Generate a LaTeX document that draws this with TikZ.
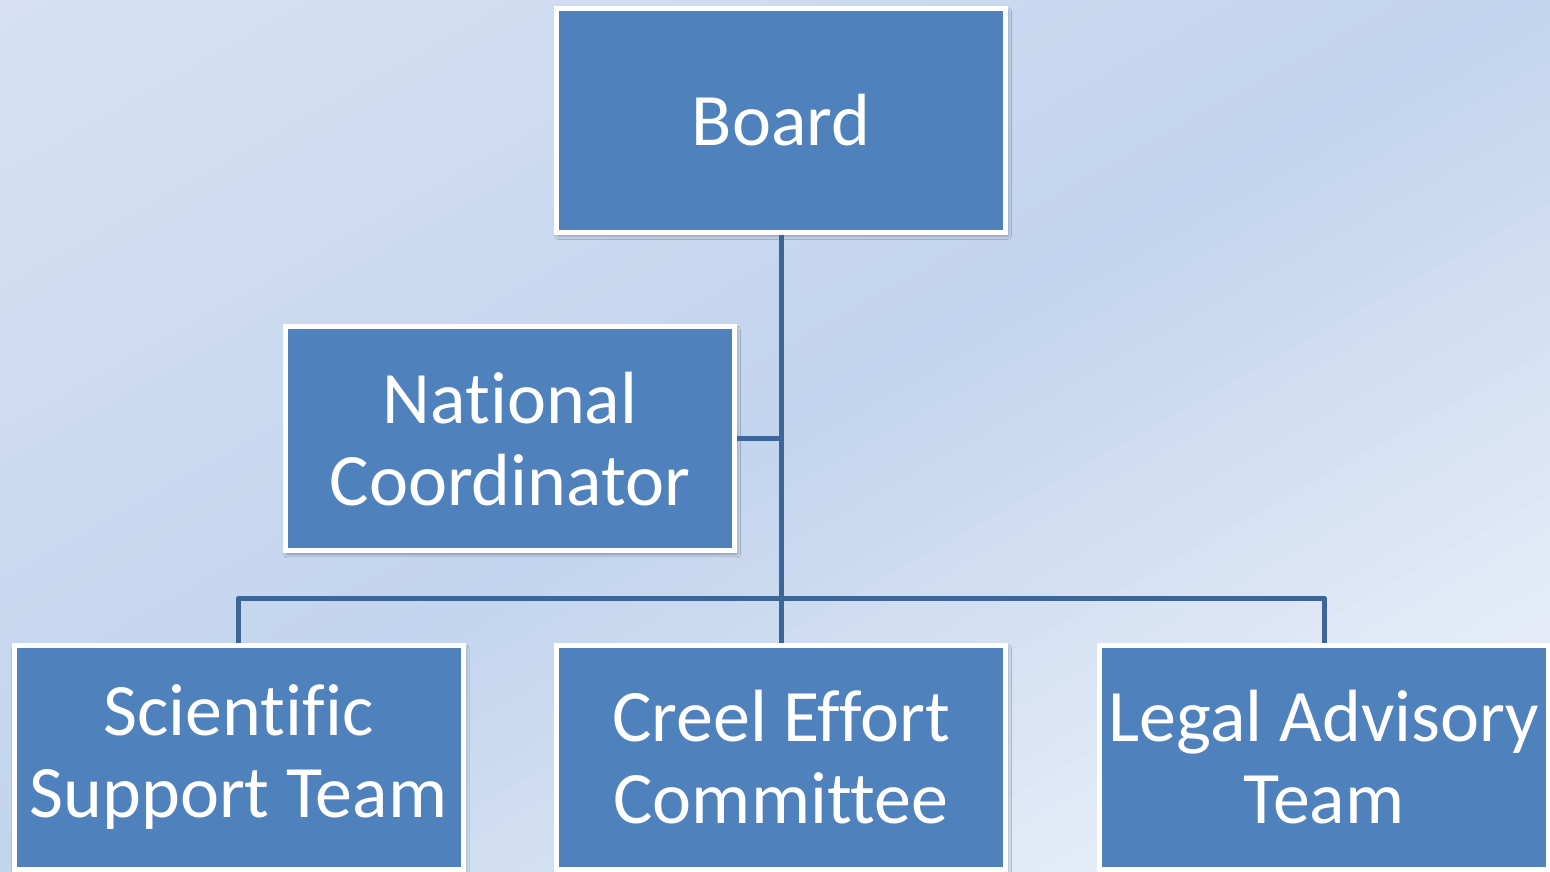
\documentclass[tikz,border=0pt]{standalone}
\usepackage{fontspec}
\setmainfont{Carlito}[RawFeature={-liga}]
\usetikzlibrary{shadows.blur}

\definecolor{boxblue}{HTML}{4F81BD}
\definecolor{linkblue}{HTML}{3D6598}
\definecolor{bgtop}{HTML}{D7E1F3}
\definecolor{bgmid}{HTML}{C3D4EE}
\definecolor{bgend}{HTML}{F2F5FB}

\tikzset{
  orgbox/.style={rectangle, draw=white, line width=5pt, fill=boxblue,
    text=white, align=center, minimum width=449pt, minimum height=224pt,
    inner sep=0pt, font=\fontsize{74}{82}\selectfont,
    blur shadow={shadow xshift=2pt, shadow yshift=-3pt,
      shadow blur radius=4pt, shadow opacity=40}},
  link/.style={draw=linkblue, line width=5pt, line join=round}
}

\begin{document}
\begin{tikzpicture}[x=1pt, y=1pt]
    \useasboundingbox (0,0) rectangle (1550,871);
    % Background gradient, in diagonal bands
    \begin{scope}[rotate around={-60.7:(775,435.5)}]
      \foreach \i in {0,...,59} {
        \pgfmathtruncatemacro\p{\i<30 ? (\i+0.5)*200/60 : (60-\i-0.5)*200/60}
        \ifnum\i<30
          \fill[bgmid!\p!bgtop] (16+\i*25.3,-470) rectangle ++(26,1811);
        \else
          \fill[bgmid!\p!bgend] (16+\i*25.3,-470) rectangle ++(26,1811);
        \fi
      }
    \end{scope}

    % Define nodes for the chart
    \node[orgbox] (board) at (781, 750.5) {Board};
    \node[orgbox] (natl)  at (510, 432) {National\\Coordinator};

    \node[orgbox] (sci)   at (238.5, 113.5) {Scientific\\Support Team};
    \node[orgbox] (creel) at (781, 113.5) {Creel Effort\\Committee};
    \node[orgbox] (legal) at (1324, 113.5) {Legal Advisory\\Team};

    % Draw edges
    \draw[link] (board.south) -- (creel.north);
    \draw[link] (natl.east) -- (natl.east -| board.south);
    \draw[link] (sci.north) -- (sci.north |- 0,273) -| (legal.north);

\end{tikzpicture}
\end{document}
